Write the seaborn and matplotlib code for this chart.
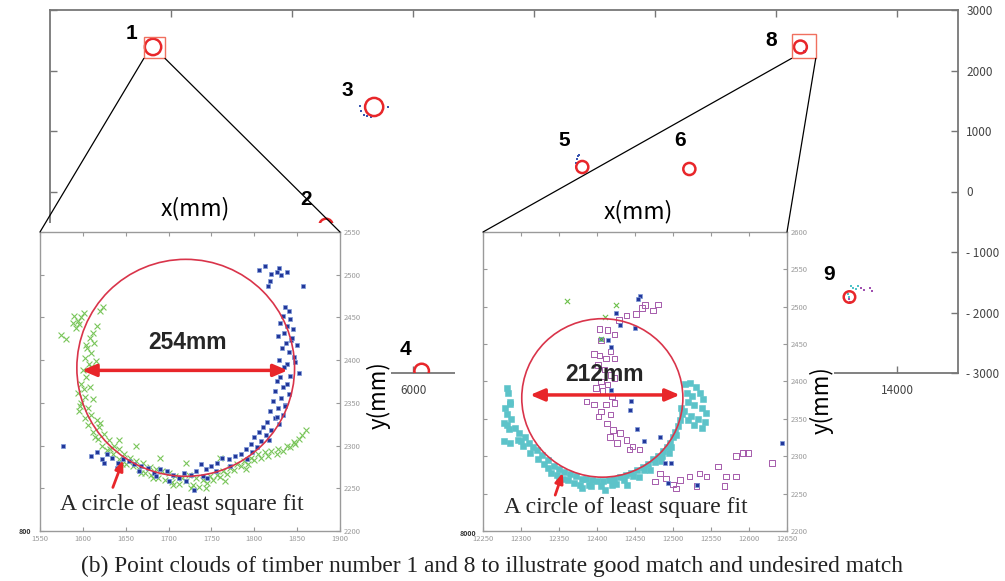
import matplotlib
matplotlib.use("Agg")
import matplotlib.pyplot as plt
import seaborn as sns
import pandas as pd
from matplotlib.patches import Circle, Rectangle, ConnectionPatch

# ---------------- data ----------------
timber_ids = ["1", "2", "3", "4", "5", "6", "8", "9"]
timber_x = [1702, 4560, 5355, 6140, 8793, 10562, 12397, 13207]
timber_y = [2389, -560, 1397, -2967, 405, 372, 2389, -1744]
timber_diam = [270, 220, 300, 240, 200, 200, 212, 190]

main_xticks = [2000, 4000, 6000, 8000, 10000, 12000, 14000]
main_xticklabels = ["2000", "4000", "6000", "8000", "10000", "12000", "14000"]
main_yticks = [3000, 2000, 1000, 0, -1000, -2000, -3000]
main_yticklabels = ["3000", "2000", "1000", "0", "- 1000", "- 2000", "- 3000"]

# small point clouds visible in the overview
ov_blue_x = [8690, 8700, 8720, 8745, 5120, 5140, 5180, 5240, 5300, 5580]
ov_blue_y = [470, 540, 590, 610, 1420, 1330, 1270, 1240, 1230, 1400]
ov_cyan_x = [13230, 13270, 13310, 13340, 13180, 13200]
ov_cyan_y = [-1570, -1590, -1610, -1560, -1700, -1740]
ov_purple_x = [13400, 13450, 13540, 13580, 13200, 13215, 12460, 12470]
ov_purple_y = [-1600, -1620, -1590, -1650, -1780, -1830, 2320, 2300]

# left inset: timber 1
t1_xlim = (1550, 1900)
t1_ylim = (2200, 2550)
t1_ticks_x = [1550, 1600, 1650, 1700, 1750, 1800, 1850, 1900]
t1_ticks_y = [2200, 2250, 2300, 2350, 2400, 2450, 2500, 2550]
t1_fit = (1720, 2391, 127)
t1_blue_x = [1805, 1813, 1819, 1829, 1838, 1818, 1816, 1857, 1831, 1826,
             1836, 1840, 1833, 1842, 1830, 1838, 1845, 1835, 1828, 1843,
             1837, 1850, 1832, 1841, 1846, 1829, 1838, 1835, 1852, 1830,
             1826, 1838, 1833, 1824, 1840, 1831, 1822, 1836, 1828, 1818,
             1833, 1824, 1815, 1829, 1810, 1820, 1806, 1814, 1800, 1808,
             1796, 1803, 1790, 1785, 1797, 1778, 1770, 1762, 1757, 1750,
             1744, 1738, 1732, 1726, 1718, 1712, 1705, 1698, 1690, 1683,
             1676, 1668, 1660, 1654, 1647, 1641, 1634, 1628, 1622, 1616,
             1610, 1577, 1730, 1720, 1745, 1700, 1844, 1848, 1836, 1842,
             1826, 1817, 1792, 1772, 1755, 1740, 1685, 1665, 1640, 1625]
t1_blue_y = [2505, 2510, 2501, 2508, 2503, 2493, 2487, 2487, 2500, 2503,
             2462, 2458, 2452, 2448, 2444, 2440, 2436, 2432, 2428, 2424,
             2420, 2418, 2414, 2410, 2404, 2400, 2396, 2392, 2385, 2380,
             2376, 2372, 2368, 2364, 2360, 2356, 2352, 2348, 2344, 2340,
             2336, 2332, 2328, 2325, 2322, 2318, 2316, 2312, 2310, 2305,
             2302, 2298, 2296, 2290, 2292, 2288, 2284, 2286, 2280, 2276,
             2272, 2278, 2270, 2266, 2268, 2262, 2266, 2270, 2272, 2268,
             2274, 2276, 2278, 2282, 2284, 2280, 2286, 2290, 2284, 2292,
             2288, 2300, 2248, 2258, 2262, 2258, 2426, 2398, 2346, 2382,
             2334, 2306, 2284, 2276, 2270, 2264, 2264, 2270, 2274, 2280]
t1_green_x = [1575, 1580, 1590, 1594, 1598, 1601, 1596, 1620, 1624, 1616,
              1612, 1608, 1613, 1605, 1610, 1602, 1607, 1615, 1600, 1604,
              1598, 1608, 1594, 1603, 1612, 1598, 1606, 1596, 1610, 1602,
              1616, 1606, 1619, 1612, 1625, 1618, 1630, 1622, 1636, 1628,
              1642, 1635, 1648, 1642, 1655, 1650, 1662, 1658, 1670, 1665,
              1678, 1672, 1685, 1680, 1692, 1688, 1700, 1696, 1708, 1704,
              1716, 1712, 1724, 1720, 1732, 1728, 1740, 1736, 1748, 1745,
              1756, 1752, 1764, 1760, 1772, 1768, 1780, 1776, 1788, 1785,
              1796, 1793, 1804, 1800, 1812, 1808, 1820, 1816, 1828, 1826,
              1838, 1834, 1846, 1842, 1852, 1848, 1856, 1662, 1642, 1690,
              1720, 1760, 1588, 1592, 1604, 1609, 1601, 1597, 1614, 1620,
              1632, 1646, 1668, 1682, 1705, 1726, 1744, 1766, 1790, 1860]
t1_green_y = [2430, 2425, 2452, 2446, 2450, 2455, 2442, 2458, 2462, 2440,
              2432, 2426, 2420, 2414, 2408, 2402, 2396, 2399, 2388, 2380,
              2372, 2368, 2362, 2357, 2354, 2350, 2344, 2340, 2336, 2332,
              2330, 2324, 2322, 2316, 2314, 2308, 2306, 2300, 2300, 2295,
              2296, 2290, 2290, 2284, 2285, 2279, 2282, 2276, 2280, 2272,
              2275, 2268, 2272, 2265, 2270, 2262, 2268, 2260, 2264, 2257,
              2262, 2255, 2266, 2258, 2262, 2254, 2260, 2252, 2264, 2256,
              2266, 2260, 2270, 2263, 2274, 2267, 2278, 2271, 2282, 2276,
              2286, 2279, 2290, 2283, 2292, 2286, 2294, 2288, 2296, 2290,
              2300, 2294, 2304, 2298, 2308, 2302, 2312, 2300, 2306, 2285,
              2280, 2285, 2444, 2438, 2418, 2392, 2366, 2346, 2310, 2326,
              2296, 2278, 2268, 2262, 2254, 2250, 2250, 2258, 2272, 2318]

# right inset: timber 8
t8_xlim = (12250, 12650)
t8_ylim = (2200, 2600)
t8_ticks_x = [12250, 12300, 12350, 12400, 12450, 12500, 12550, 12600, 12650]
t8_ticks_y = [2200, 2250, 2300, 2350, 2400, 2450, 2500, 2550, 2600]
t8_fit = (12407, 2378, 106)
t8_cyan_x = [12281, 12283, 12285, 12279, 12286, 12282, 12287, 12281, 12277, 12284,
             12278, 12286, 12292, 12298, 12305, 12300, 12310, 12316, 12321, 12312,
             12328, 12322, 12335, 12343, 12336, 12350, 12357, 12348, 12365, 12372,
             12362, 12380, 12386, 12378, 12394, 12400, 12392, 12408, 12416, 12405,
             12423, 12430, 12420, 12438, 12445, 12435, 12452, 12460, 12448, 12467,
             12474, 12462, 12480, 12487, 12476, 12492, 12496, 12486, 12500, 12503,
             12497, 12506, 12509, 12504, 12512, 12510, 12516, 12522, 12530, 12518,
             12525, 12535, 12540, 12520, 12528, 12538, 12544, 12515, 12524, 12533,
             12542, 12528, 12538, 12520, 12410, 12380, 12440, 12350, 12296, 12330,
             12340, 12355, 12370, 12390, 12425, 12455, 12470, 12484, 12495, 12303]
t8_cyan_y = [2391, 2384, 2373, 2365, 2370, 2357, 2350, 2342, 2344, 2336,
             2320, 2318, 2338, 2331, 2326, 2320, 2318, 2312, 2309, 2305,
             2302, 2296, 2295, 2287, 2284, 2283, 2279, 2275, 2276, 2273,
             2268, 2270, 2269, 2262, 2268, 2267, 2260, 2267, 2268, 2260,
             2270, 2272, 2262, 2275, 2278, 2268, 2281, 2285, 2274, 2290,
             2296, 2282, 2301, 2307, 2292, 2313, 2318, 2300, 2326, 2333,
             2312, 2341, 2349, 2328, 2357, 2365, 2396, 2398, 2392, 2385,
             2380, 2384, 2376, 2372, 2368, 2364, 2358, 2360, 2354, 2350,
             2346, 2342, 2338, 2348, 2255, 2258, 2262, 2270, 2322, 2290,
             2278, 2270, 2264, 2262, 2263, 2272, 2282, 2293, 2305, 2314]
t8_purple_x = [12459, 12463, 12480, 12474, 12451, 12439, 12429, 12403, 12414, 12423,
               12405, 12396, 12403, 12412, 12418, 12423, 12401, 12410, 12418, 12405,
               12414, 12423, 12399, 12407, 12420, 12386, 12396, 12412, 12423, 12405,
               12418, 12402, 12413, 12421, 12417, 12430, 12439, 12426, 12447, 12456,
               12443, 12476, 12483, 12491, 12500, 12509, 12504, 12522, 12535, 12544,
               12559, 12570, 12583, 12583, 12592, 12599, 12630, 12568, 12531]
t8_purple_y = [2498, 2502, 2503, 2495, 2490, 2488, 2482, 2470, 2469, 2463,
               2455, 2437, 2435, 2431, 2440, 2431, 2422, 2416, 2409, 2400,
               2396, 2405, 2391, 2387, 2380, 2373, 2369, 2369, 2371, 2360,
               2356, 2353, 2344, 2335, 2326, 2331, 2322, 2318, 2313, 2309,
               2309, 2266, 2277, 2270, 2262, 2268, 2257, 2273, 2277, 2273,
               2286, 2273, 2273, 2300, 2304, 2304, 2291, 2260, 2260]
t8_navy_x = [12456, 12454, 12425, 12430, 12450, 12405, 12414, 12418, 12418, 12445,
             12443, 12452, 12483, 12489, 12498, 12494, 12531, 12643, 12462]
t8_navy_y = [2515, 2510, 2492, 2476, 2471, 2457, 2456, 2446, 2389, 2374,
             2362, 2336, 2326, 2291, 2291, 2264, 2262, 2318, 2320]
t8_green_x = [12360, 12425, 12410, 12405]
t8_green_y = [2508, 2502, 2486, 2457]

caption = "(b) Point clouds of timber number 1 and 8 to illustrate good match and undesired match"

# ---------------- styling / layout ----------------
sns.set_theme(style="white")
plt.rcParams["font.family"] = ["Noto Sans CJK JP", "DejaVu Sans"]

W, H = 1005, 581
fig = plt.figure(figsize=(W / 100, H / 100), dpi=100)


def rect(l, t, r, b):
    return [l / W, 1 - b / H, (r - l) / W, (b - t) / H]


def fpx(x, y):
    return x / W, 1 - y / H


RED = "#e8262a"
FIT = "#d9344a"
SPINE = "#777777"

# ---- main overview axes ----
ax = fig.add_axes(rect(50, 10, 958, 373))
ax.set_zorder(0)
ax.set_xlim(0, 15000)
ax.set_ylim(-3000, 3000)
for s in ax.spines.values():
    s.set_color(SPINE)
    s.set_linewidth(1.3)
ax.set_xticks(main_xticks, labels=main_xticklabels)
ax.set_yticks(main_yticks, labels=main_yticklabels)
ax.yaxis.tick_right()
ax.tick_params(axis="both", direction="in", length=5, width=1, color=SPINE,
               labelsize=8.5, labelcolor="#444444", top=True, bottom=True,
               left=True, right=True, labelleft=False, labelright=True)
ax.tick_params(axis="x", pad=8)
ax.tick_params(axis="y", pad=6)
ax.set_xlabel("")
ax.set_ylabel("")

sns.scatterplot(x=ov_blue_x, y=ov_blue_y, ax=ax, s=4, color="#3a55b0",
                marker="s", linewidth=0, legend=False)
sns.scatterplot(x=ov_cyan_x, y=ov_cyan_y, ax=ax, s=4, color="#4fc3c8",
                marker="s", linewidth=0, legend=False)
sns.scatterplot(x=ov_purple_x, y=ov_purple_y, ax=ax, s=3, color="#a050b0",
                marker="s", linewidth=0, legend=False)

label_off = {"1": (-22, 13), "2": (-20, 26), "3": (-27, 16), "4": (-16, 22),
             "5": (-18, 26), "6": (-9, 28), "8": (-29, 6), "9": (-20, 23)}
for tid, x, y, d in zip(timber_ids, timber_x, timber_y, timber_diam):
    ax.add_patch(Circle((x, y), d / 2, fill=False, edgecolor=RED, lw=1.8, zorder=4))
    ax.annotate(tid, (x, y), xytext=label_off[tid], textcoords="offset pixels",
                ha="center", va="center", fontsize=15, fontweight="bold",
                family="Liberation Sans", color="black")

# zoom boxes
ax.add_patch(Rectangle((t1_xlim[0], t1_ylim[0]), t1_xlim[1] - t1_xlim[0],
                       t1_ylim[1] - t1_ylim[0], fill=False, edgecolor="#f0705f",
                       lw=1.0, zorder=5))
ax.add_patch(Rectangle((t8_xlim[0], t8_ylim[0]), t8_xlim[1] - t8_xlim[0],
                       t8_ylim[1] - t8_ylim[0], fill=False, edgecolor="#f0705f",
                       lw=1.0, zorder=5))

# white areas of the pasted zoom images
fig.add_artist(Rectangle(fpx(0, 400), 372 / W, (400 - 223) / H, transform=fig.transFigure,
                         facecolor="white", edgecolor="none", zorder=1))
fig.add_artist(Rectangle(fpx(455, 400), (815 - 455) / W, (400 - 222) / H,
                         transform=fig.transFigure, facecolor="white",
                         edgecolor="none", zorder=1))


def style_inset(a, xlim, ylim, xt, yt):
    a.set_zorder(2)
    a.set_facecolor("white")
    a.set_xlim(*xlim)
    a.set_ylim(*ylim)
    a.set_xticks(xt, labels=[str(v) for v in xt])
    a.set_yticks(yt, labels=[str(v) for v in yt])
    a.yaxis.tick_right()
    for s in a.spines.values():
        s.set_color("#9a9a9a")
        s.set_linewidth(1.0)
    a.tick_params(axis="both", direction="in", length=3, width=0.8, color="#999999",
                  labelsize=5.5, labelcolor="#9a9a9a", top=True, bottom=True,
                  left=True, right=True, labelleft=False, labelright=True, pad=3)
    a.set_xlabel("")
    a.set_ylabel("")


# ---- left inset (timber 1) ----
a1 = fig.add_axes(rect(40, 232, 340, 531))
style_inset(a1, t1_xlim, t1_ylim, t1_ticks_x, t1_ticks_y)
sns.scatterplot(x=t1_green_x, y=t1_green_y, ax=a1, marker="x", s=18,
                color="#79c55a", linewidth=0.8, legend=False)
sns.scatterplot(x=t1_blue_x, y=t1_blue_y, ax=a1, marker="s", s=10,
                color="#22379a", edgecolor="#7f9ad8", linewidth=0.5, legend=False)
a1.add_patch(Circle(t1_fit[:2], t1_fit[2], fill=False, edgecolor=FIT, lw=1.2, zorder=5))
a1.annotate("", xy=(1599, 2388), xytext=(1839, 2388),
            arrowprops=dict(arrowstyle="<|-|>,head_length=0.7,head_width=0.3",
                            color=RED, lw=2.5, shrinkA=0, shrinkB=0), zorder=6)
a1.text(1722, 2421, "254mm", ha="center", va="center", fontsize=16.5,
        fontweight="bold", family="Liberation Sans", zorder=7)
a1.annotate("", xy=(1647, 2283), xytext=(1635, 2251),
            arrowprops=dict(arrowstyle="-|>,head_length=0.5,head_width=0.2",
                            color=RED, lw=2, shrinkA=0, shrinkB=0), zorder=6)
a1.text(1716, 2231, "A circle of least square fit", ha="center", va="center",
        fontsize=17, family="Liberation Serif", zorder=7)

# ---- right inset (timber 8) ----
a8 = fig.add_axes(rect(483, 232, 787, 531))
style_inset(a8, t8_xlim, t8_ylim, t8_ticks_x, t8_ticks_y)
sns.scatterplot(x=t8_cyan_x, y=t8_cyan_y, ax=a8, marker="s", s=18,
                color="#5cc3c9", edgecolor="#5cc3c9", linewidth=0.4, legend=False)
sns.scatterplot(x=t8_purple_x, y=t8_purple_y, ax=a8, marker="s", s=16,
                facecolor="none", edgecolor="#a55aab", linewidth=0.7, legend=False)
sns.scatterplot(x=t8_navy_x, y=t8_navy_y, ax=a8, marker="s", s=10,
                color="#22379a", edgecolor="#7f9ad8", linewidth=0.5, legend=False)
sns.scatterplot(x=t8_green_x, y=t8_green_y, ax=a8, marker="x", s=14,
                color="#6cc04a", linewidth=0.8, legend=False)
a8.add_patch(Circle(t8_fit[:2], t8_fit[2], fill=False, edgecolor=FIT, lw=1.2, zorder=5))
a8.annotate("", xy=(12312, 2382), xytext=(12509, 2382),
            arrowprops=dict(arrowstyle="<|-|>,head_length=0.7,head_width=0.3",
                            color=RED, lw=2.5, shrinkA=0, shrinkB=0), zorder=6)
a8.text(12410, 2409, "212mm", ha="center", va="center", fontsize=16.5,
        fontweight="bold", family="Liberation Sans", zorder=7)
a8.annotate("", xy=(12355, 2278), xytext=(12345, 2248),
            arrowprops=dict(arrowstyle="-|>,head_length=0.5,head_width=0.2",
                            color=RED, lw=2, shrinkA=0, shrinkB=0), zorder=6)
a8.text(12438, 2232, "A circle of least square fit", ha="center", va="center",
        fontsize=17, family="Liberation Serif", zorder=7)

# ---- connector lines from zoom boxes to insets ----
for axB, xl, yl in [(a1, t1_xlim, t1_ylim), (a8, t8_xlim, t8_ylim)]:
    for xv in xl:
        con = ConnectionPatch(xyA=(xv, yl[0]), coordsA="data", axesA=ax,
                              xyB=(xv, yl[1]), coordsB="data", axesB=axB,
                              color="black", lw=0.9, zorder=3)
        fig.add_artist(con)

# ---- axis titles and texts on the figure ----
for (x, y) in [(195, 209), (638, 212)]:
    fig.text(*fpx(x, y), "x(mm)", ha="center", va="center", fontsize=16.5,
             color="black", zorder=4)
for (x, y) in [(379, 395), (822, 400)]:
    fig.text(*fpx(x, y), "y(mm)", ha="center", va="center", fontsize=16,
             rotation=90, color="black", zorder=4,
             bbox=dict(facecolor="white", edgecolor="none", pad=0))
fig.text(*fpx(25, 532), "800", ha="center", va="center", fontsize=5,
         fontweight="bold", color="#333333", zorder=4)
fig.text(*fpx(468, 533), "8000", ha="center", va="center", fontsize=5,
         fontweight="bold", color="#333333", zorder=4)
fig.text(*fpx(492, 566), caption, ha="center", va="center", fontsize=16.8,
         family="Liberation Serif", color="#222222", zorder=4)

fig.savefig("out.png", dpi=100, facecolor="white")
